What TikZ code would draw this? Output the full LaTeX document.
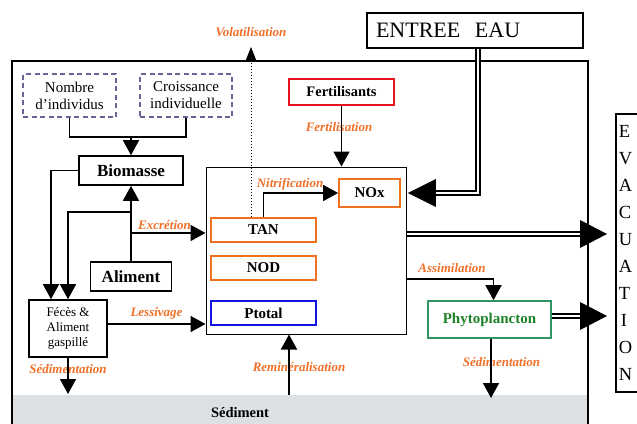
\documentclass[tikz,border=0pt]{standalone}
\usepackage{fontspec}
\setmainfont{Liberation Serif}
\usetikzlibrary{arrows.meta,calc}
\definecolor{lab}{RGB}{240,112,40}
\definecolor{dashc}{RGB}{105,100,150}
\definecolor{tanc}{RGB}{240,112,30}
\definecolor{ptc}{RGB}{20,20,225}
\definecolor{fertc}{RGB}{230,20,30}
\definecolor{phyb}{RGB}{50,150,100}
\definecolor{phyt}{RGB}{30,130,40}
\definecolor{sedc}{RGB}{221,224,227}
\begin{document}
\begin{tikzpicture}[x=1pt,y=-1pt,
  box/.style={draw, line width=1.6pt, inner sep=0pt, align=center, minimum height=29pt},
  dbox/.style={draw=dashc, dashed, dash pattern=on 5pt off 3.5pt, line width=1.3pt, inner sep=0pt, align=center,
     minimum width=93pt, minimum height=43pt, font=\fontsize{15}{17}\selectfont},
  pbox/.style={draw, line width=1.8pt, inner sep=0pt, minimum width=105pt, minimum height=24pt,
     font=\fontsize{15}{17}\selectfont\bfseries},
  lbl/.style={text=lab, inner sep=0pt, font=\fontsize{13}{14}\selectfont\bfseries\itshape},
  ln/.style={line width=1.6pt},
  arr/.style={line width=1.6pt, -{Triangle[length=15pt,width=16pt]}},
  dbl/.style={double, double distance=2.4pt, line width=1.5pt},
  head/.style={fill=black}
]
\useasboundingbox (0,0) rectangle (637,423);
\clip (0,0) rectangle (637,423);

% sediment and outer frame
\node[fill=sedc, minimum width=574pt, minimum height=34pt, inner sep=0pt] (sed) at (300,412) {};
\node[inner sep=0pt, font=\fontsize{14.5}{16}\selectfont\bfseries] (sedlabel) at (240,413) {Sédiment};
\node[draw, line width=2.5pt, minimum width=576pt, minimum height=378pt, inner sep=0pt] (outer) at (300,250) {};

% entree eau and evacuation
\node[draw, line width=1.6pt, minimum width=216pt, minimum height=35pt, inner xsep=9pt, inner ysep=0pt,
      text width=198pt, align=left, font=\fontsize{22}{24}\selectfont] (entree) at (475,30.5) {ENTREE~~EAU};
\node[draw, line width=1.6pt, anchor=north west, minimum width=45pt, minimum height=278pt, inner xsep=3pt,
      inner ysep=0pt, text width=39pt, align=left, font=\fontsize{18.5}{27}\selectfont] (evac) at (615,113)
      {E\\V\\A\\C\\U\\A\\T\\\hspace{2pt}I\\O\\N};

% boxes
\node[dbox] (nombre) at (69.5,95.5) {Nombre\\d’individus};
\node[dbox, minimum width=92pt] (croiss) at (186,95.5) {Croissance\\individuelle};
\node[box, minimum width=104pt, font=\fontsize{17}{19}\selectfont\bfseries] (biomasse) at (131,170.5) {Biomasse};
\node[box, minimum width=81pt, font=\fontsize{17}{19}\selectfont\bfseries] (aliment) at (131,276.5) {Aliment};
\node[box, minimum width=78pt, minimum height=57pt, font=\fontsize{13}{15}\selectfont] (feces) at (68,328.5)
     {Fécès \&\\Aliment\\gaspillé};
\node[draw, line width=1pt, minimum width=200pt, minimum height=167pt, inner sep=0pt] (bigbox) at (306,250.5) {};
\node[pbox, draw=tanc] (tan) at (263.5,230) {TAN};
\node[pbox, draw=tanc] (nod) at (263.5,268) {NOD};
\node[pbox, draw=ptc] (ptotal) at (263.5,313) {Ptotal};
\node[pbox, draw=tanc, minimum width=61pt, minimum height=28pt] (nox) at (369.5,193) {NOx};
\node[pbox, draw=fertc, minimum height=26pt, font=\fontsize{14.5}{16}\selectfont\bfseries] (fert) at (341.5,92) {Fertilisants};
\node[pbox, draw=phyb, text=phyt, line width=1.6pt, minimum width=123pt, minimum height=37pt] (phyto) at (489.5,319.5) {Phytoplancton};

% coordinates
\coordinate (join) at (131,137);
\coordinate (row212) at (0,212);
\coordinate (row233) at (0,233);
\coordinate (row234) at (0,234);
\coordinate (row279) at (0,279);
\coordinate (row316) at (0,316);
\coordinate (voltip) at (251,47);
\coordinate (volx) at (251,0);
\coordinate (sedtip1) at (68,394);
\coordinate (sedtip2) at (491,398);
\coordinate (remx) at (289,0);
\coordinate (dblx) at (580,0);
\coordinate (tipx) at (607,0);
\coordinate (eaux) at (478,0);
\coordinate (lessout) at ([yshift=4.5pt]feces.east);

% labels (drawn before lines)
\node[lbl] (lvol) at (251,32) {Volatilisation};
\node[lbl] (lfert) at (339,127) {Fertilisation};
\node[lbl] (lnit) at (290,184) {Nitrification};
\node[lbl] (lexc) at (164.5,225) {Excrétion};
\node[lbl] (lles) at (156.5,313) {Lessivage};
\node[lbl] (lsed1) at (68,369) {Sédimentation};
\node[lbl] (lrem) at (299,367) {Reminéralisation};
\node[lbl] (lass) at (452,268) {Assimilation};
\node[lbl] (lsed2) at (501.5,362) {Sédimentation};

% connectors
\draw[ln] (nombre.south) |- (croiss.south |- join) -- (croiss.south);
\draw[arr] (join) -- (biomasse.north);
\draw[arr] (biomasse.west) -| ([xshift=-17pt]feces.north);
\draw[arr] (aliment.north) -- (biomasse.south);
\draw[arr] (aliment.north |- row212) -| (feces.north);
\draw[arr] (aliment.north |- row233) -- (bigbox.west |- row233);
\draw[arr] (lessout) -- (bigbox.west |- lessout);
\draw[arr] (feces.south) -- (sedtip1);
\draw[line width=1pt, dotted, -{Triangle[length=13pt,width=10pt]}] (tan.north -| volx) -- (voltip);
\draw[arr] (tan.north) |- (nox.west);
\draw[arr] (fert.south) -- (fert.south |- bigbox.north);
\draw[arr] (bigbox.east |- row279) -| ([xshift=4pt]phyto.north);
\draw[arr] (phyto.south -| sedtip2) -- (sedtip2);
\draw[arr] (sed.north -| remx) -- (bigbox.south -| remx);

% double connectors
\draw[dbl] (entree.south -| eaux) -- (eaux |- nox.east) -- ([xshift=35pt]nox.east);
\fill[head] ([xshift=7pt]nox.east) -- ++(28,-14) -- ++(0,28) -- cycle;
\draw[dbl] (bigbox.east |- row234) -- (dblx |- row234);
\fill[head] (tipx |- row234) -- ++(-27,-14) -- ++(0,28) -- cycle;
\draw[dbl] (phyto.east |- row316) -- (dblx |- row316);
\fill[head] (tipx |- row316) -- ++(-27,-14) -- ++(0,28) -- cycle;
\end{tikzpicture}
\end{document}
